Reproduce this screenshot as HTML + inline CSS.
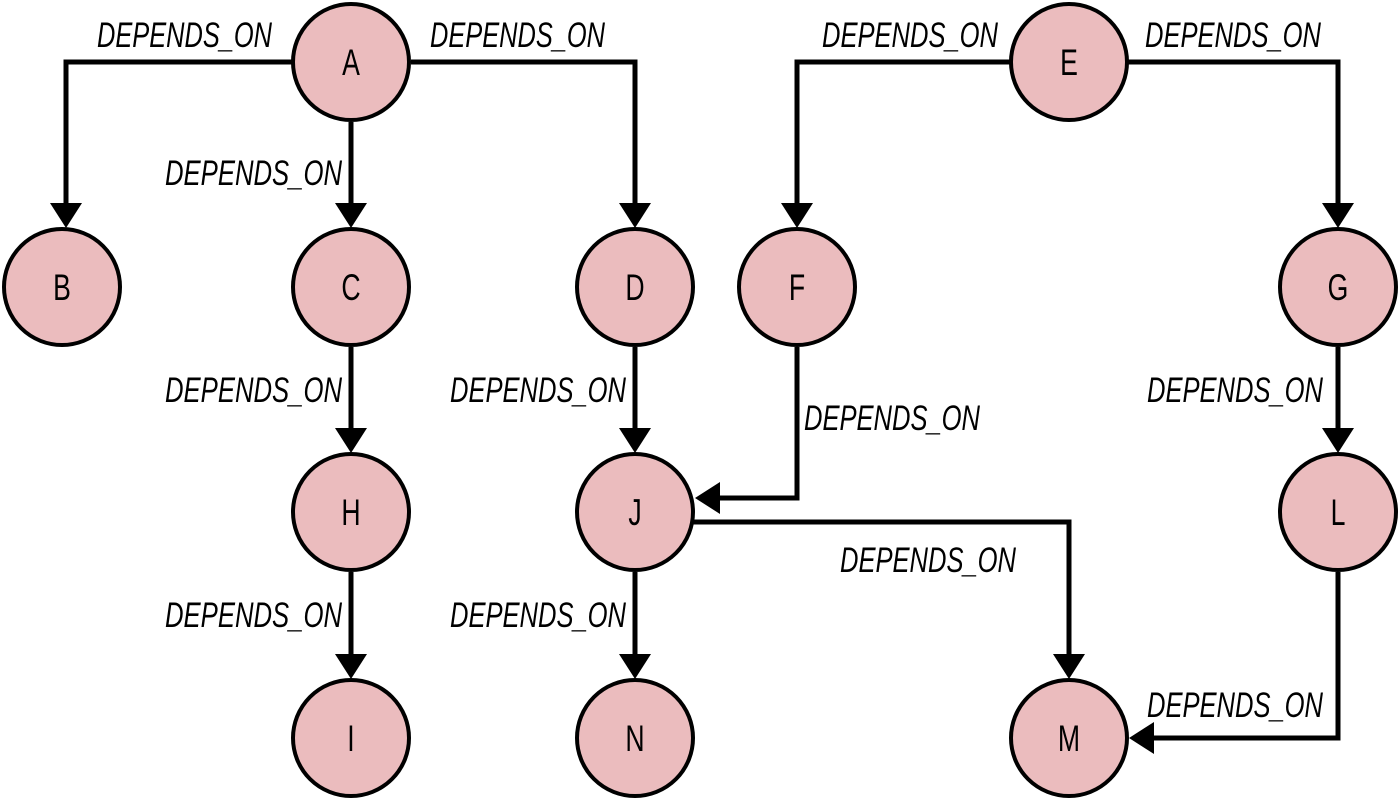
<!DOCTYPE html>
<html><head><style>html,body{margin:0;padding:0;background:#fff}</style></head>
<body>
<svg width="1399" height="800" xmlns="http://www.w3.org/2000/svg">
<g stroke="#000" stroke-width="5" fill="none">
<polyline points="292,62 66,62 66,204"/>
<polyline points="411,62 635,62 635,204"/>
<line x1="351" y1="122" x2="351" y2="204"/>
<polyline points="1010,62 797,62 797,204"/>
<polyline points="1128,62 1338,62 1338,204"/>
<line x1="351" y1="347" x2="351" y2="429"/>
<line x1="635" y1="347" x2="635" y2="429"/>
<line x1="1338" y1="347" x2="1338" y2="429"/>
<polyline points="797,347 797,498 720,498"/>
<polyline points="693,522 1069,522 1069,655"/>
<line x1="635" y1="572" x2="635" y2="655"/>
<line x1="351" y1="572" x2="351" y2="655"/>
<polyline points="1338,572 1338,738 1154,738"/>
</g>
<g fill="#000">
<polygon points="50,203 82,203 66,228"/>
<polygon points="619,203 651,203 635,228"/>
<polygon points="335,203 367,203 351,228"/>
<polygon points="781,203 813,203 797,228"/>
<polygon points="1322,203 1354,203 1338,228"/>
<polygon points="335,428 367,428 351,453"/>
<polygon points="619,428 651,428 635,453"/>
<polygon points="1322,428 1354,428 1338,453"/>
<polygon points="720,482 720,514 695,498"/>
<polygon points="1053,654 1085,654 1069,679"/>
<polygon points="619,654 651,654 635,679"/>
<polygon points="335,654 367,654 351,679"/>
<polygon points="1154,722 1154,754 1129,738"/>
</g>
<g fill="#ebbcbe" stroke="#000" stroke-width="4">
<circle cx="351" cy="62" r="58"/>
<circle cx="1069" cy="62" r="58"/>
<circle cx="62" cy="287" r="58"/>
<circle cx="351" cy="287" r="58"/>
<circle cx="635" cy="287" r="58"/>
<circle cx="797" cy="287" r="58"/>
<circle cx="1338" cy="287" r="58"/>
<circle cx="351" cy="512" r="58"/>
<circle cx="635" cy="512" r="58"/>
<circle cx="1338" cy="512" r="58"/>
<circle cx="351" cy="738" r="58"/>
<circle cx="635" cy="738" r="58"/>
<circle cx="1069" cy="738" r="58"/>
</g>
<g font-family="Liberation Sans, sans-serif" font-size="37" text-anchor="middle" fill="#000">
<text transform="translate(351,75) scale(0.72,1)">A</text>
<text transform="translate(1069,75) scale(0.72,1)">E</text>
<text transform="translate(62,300) scale(0.72,1)">B</text>
<text transform="translate(351,300) scale(0.72,1)">C</text>
<text transform="translate(635,300) scale(0.72,1)">D</text>
<text transform="translate(797,300) scale(0.72,1)">F</text>
<text transform="translate(1338,300) scale(0.72,1)">G</text>
<text transform="translate(351,525) scale(0.72,1)">H</text>
<text transform="translate(635,525) scale(0.72,1)">J</text>
<text transform="translate(1338,525) scale(0.72,1)">L</text>
<text transform="translate(351,751) scale(0.72,1)">I</text>
<text transform="translate(635,751) scale(0.72,1)">N</text>
<text transform="translate(1069,751) scale(0.72,1)">M</text>
</g>
<g font-family="Liberation Sans, sans-serif" font-size="35" font-style="italic" fill="#000">
<text x="97" y="47" textLength="175" lengthAdjust="spacingAndGlyphs">DEPENDS_ON</text>
<text x="430" y="47" textLength="175" lengthAdjust="spacingAndGlyphs">DEPENDS_ON</text>
<text x="165" y="185" textLength="177" lengthAdjust="spacingAndGlyphs">DEPENDS_ON</text>
<text x="822" y="47" textLength="176" lengthAdjust="spacingAndGlyphs">DEPENDS_ON</text>
<text x="1145" y="47" textLength="176" lengthAdjust="spacingAndGlyphs">DEPENDS_ON</text>
<text x="165" y="402" textLength="177" lengthAdjust="spacingAndGlyphs">DEPENDS_ON</text>
<text x="450" y="402" textLength="176" lengthAdjust="spacingAndGlyphs">DEPENDS_ON</text>
<text x="804" y="430" textLength="176" lengthAdjust="spacingAndGlyphs">DEPENDS_ON</text>
<text x="1147" y="402" textLength="176" lengthAdjust="spacingAndGlyphs">DEPENDS_ON</text>
<text x="165" y="627" textLength="177" lengthAdjust="spacingAndGlyphs">DEPENDS_ON</text>
<text x="450" y="627" textLength="176" lengthAdjust="spacingAndGlyphs">DEPENDS_ON</text>
<text x="840" y="572" textLength="176" lengthAdjust="spacingAndGlyphs">DEPENDS_ON</text>
<text x="1147" y="717" textLength="176" lengthAdjust="spacingAndGlyphs">DEPENDS_ON</text>
</g>
</svg>
</body></html>
